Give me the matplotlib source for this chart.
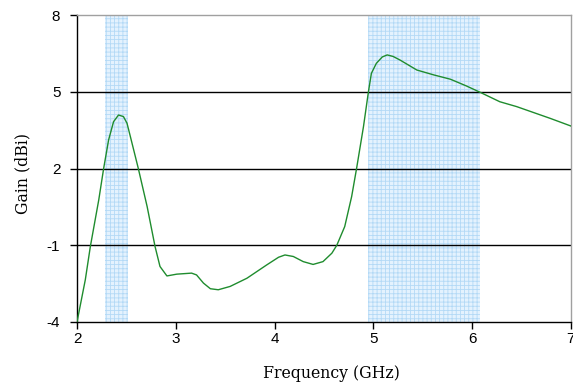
import numpy as np
import matplotlib
matplotlib.use("Agg")
import matplotlib.pyplot as plt

plt.rcParams['font.family'] = ['DejaVu Serif']
plt.rcParams['axes.unicode_minus'] = False
plt.rcParams['hatch.color'] = '#b3d9f6'
plt.rcParams['hatch.linewidth'] = 0.6

# measured gain curve
freq_ghz = [2.00, 2.084, 2.135, 2.22, 2.27, 2.32, 2.37, 2.42, 2.47, 2.506, 2.54, 2.62,
            2.71, 2.79, 2.84, 2.91, 3.01, 3.16, 3.21, 3.28, 3.35, 3.43, 3.55, 3.72,
            3.92, 4.04, 4.105, 4.19, 4.29, 4.39, 4.49, 4.58, 4.63, 4.71, 4.78, 4.83,
            4.90, 4.95, 4.98, 5.03, 5.09, 5.14, 5.20, 5.27, 5.44, 5.61, 5.78, 5.94,
            6.08, 6.28, 6.45, 6.79, 7.00]
gain_dbi = [-4.00, -2.35, -1.05, 0.77, 2.01, 3.12, 3.83, 4.09, 4.03, 3.77, 3.25, 2.01,
            0.51, -1.05, -1.83, -2.20, -2.13, -2.09, -2.16, -2.48, -2.70, -2.74, -2.61, -2.29,
            -1.77, -1.47, -1.38, -1.44, -1.64, -1.75, -1.64, -1.31, -1.00, -0.27, 0.90, 2.00,
            3.64, 5.00, 5.72, 6.11, 6.36, 6.44, 6.38, 6.24, 5.85, 5.66, 5.49, 5.23,
            4.98, 4.61, 4.42, 3.96, 3.66]

# operating bands
band_lo = [2.28, 4.95]
band_hi = [2.52, 6.08]

y_ticks = [-4, -1, 2, 5, 8]
x_ticks = [2, 3, 4, 5, 6, 7]

fig = plt.figure(figsize=(5.73, 3.83), dpi=100)
ax = fig.add_axes([0.1344, 0.1593, 0.862, 0.8015])

for lo, hi in zip(band_lo, band_hi):
    ax.axvspan(lo, hi, facecolor='#e4f2fe', edgecolor='#b3d9f6', hatch='++++', linewidth=0, zorder=1)

for y in [-1, 2, 5]:
    ax.axhline(y, color='black', linewidth=1.0, zorder=2)

ax.plot(freq_ghz, gain_dbi, color='#1f8c2e', linewidth=1.0, zorder=3)

ax.set_xlim(2, 7)
ax.set_ylim(-4, 8)
ax.set_xticks(x_ticks)
ax.set_yticks(y_ticks)
ax.tick_params(direction='out', length=5, width=1, color='black')
ax.tick_params(axis='x', pad=2)
ax.tick_params(axis='y', pad=7)
for lab in ax.get_xticklabels() + ax.get_yticklabels():
    lab.set_fontfamily('Liberation Sans')
    lab.set_fontsize(11)

ax.spines['left'].set_color('black')
ax.spines['bottom'].set_color('black')
ax.spines['top'].set_color('#a0a0a0')
ax.spines['right'].set_color('#a0a0a0')
for s in ax.spines.values():
    s.set_linewidth(1.0)

ax.set_xlabel('Frequency (GHz)', fontsize=11.3)
ax.set_ylabel('Gain (dBi)', fontsize=11.3)
ax.xaxis.set_label_coords(0.516, -0.169)
ax.xaxis.label.set_va('center')
ax.yaxis.set_label_coords(-0.109, 0.485)
ax.yaxis.label.set_va('center')

fig.savefig('out.png', dpi=100)
